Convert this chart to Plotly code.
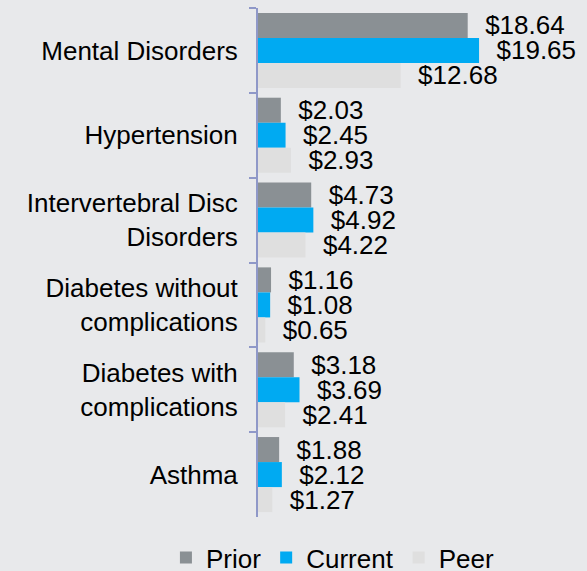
import plotly.graph_objects as go

categories = ["Mental Disorders", "Hypertension", "Intervertebral Disc<br>Disorders",
              "Diabetes without<br>complications", "Diabetes with<br>complications", "Asthma"]
prior = [18.64, 2.03, 4.73, 1.16, 3.18, 1.88]
current = [19.65, 2.45, 4.92, 1.08, 3.69, 2.12]
peer = [12.68, 2.93, 4.22, 0.65, 2.41, 1.27]

series = [("Prior", prior, "#8a9094"), ("Current", current, "#00aaf2"), ("Peer", peer, "#dfdfdf")]

FONT = "Liberation Sans, Arial, sans-serif"
fig = go.Figure()
for name, vals, col in series:
    fig.add_trace(go.Bar(
        name=name, y=categories, x=vals, orientation="h",
        marker=dict(color=col, line=dict(width=0)),
        texttemplate="\u00a0\u00a0$%{x:.2f}", textposition="outside",
        textfont=dict(family=FONT, size=26, color="#000000"),
        constraintext="none", cliponaxis=False, hoverinfo="skip",
    ))

fig.update_layout(
    width=587, height=571,
    paper_bgcolor="#e8e9eb", plot_bgcolor="#e8e9eb",
    barmode="group", bargap=0.115, bargroupgap=0,
    margin=dict(l=258, r=59, t=8, b=54, autoexpand=False),
    font=dict(family=FONT, size=26, color="#000000"),
    showlegend=True,
    legend=dict(orientation="h", x=-0.341, xanchor="left", y=-0.08, yanchor="middle",
                font=dict(family=FONT, size=26, color="#000000"),
                bgcolor="rgba(0,0,0,0)", itemclick=False),
    xaxis=dict(range=[0, 24], visible=False, showgrid=False, zeroline=False),
    yaxis=dict(autorange="reversed", showline=True, linecolor="#8f98c8", linewidth=2,
               ticks="outside", tickson="boundaries", ticklen=7, tickwidth=2,
               tickcolor="#8f98c8", showgrid=False, zeroline=False,
               ticklabelstandoff=13,
               tickfont=dict(family=FONT, size=26, color="#000000")),
)
fig.write_html("out.html", config={"displayModeBar": False},
               post_script="document.body.style.margin='0';document.body.style.background='#e8e9eb';")
